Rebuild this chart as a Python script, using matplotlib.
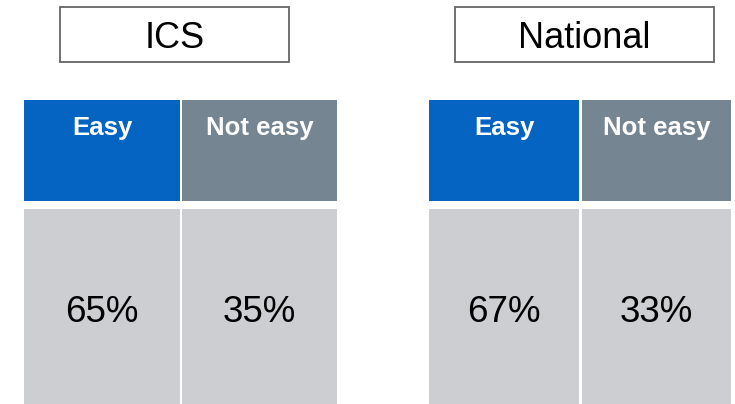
import matplotlib
matplotlib.use("Agg")
import matplotlib.pyplot as plt
from matplotlib.patches import Rectangle

plt.rcParams['font.family'] = ['Liberation Sans', 'DejaVu Sans']

groups = ["ICS", "National"]
categories = ["Easy", "Not easy"]
values = [[65, 35], [67, 33]]
header_colors = ["#0563C1", "#768592"]
cell_color = "#CDCED2"

W, H = 735, 404
fig = plt.figure(figsize=(W / 100, H / 100), dpi=100)
ax = fig.add_axes([0, 0, 1, 1])
ax.set_xlim(0, W)
ax.set_ylim(H, 0)
ax.axis("off")

# layout (pixels)
title_boxes = [(60, 289), (455, 714)]
title_y0, title_y1 = 7, 62
col_x = [[(24, 180), (182, 337)], [(429, 579), (582, 731)]]
head_y0, head_y1 = 100, 201
cell_y0, cell_y1 = 209, 404

for g, grp in enumerate(groups):
    x0, x1 = title_boxes[g]
    ax.add_patch(Rectangle((x0, title_y0), x1 - x0, title_y1 - title_y0,
                           facecolor="white", edgecolor="#666666", lw=1.3))
    ax.text((x0 + x1) / 2, 48, grp, fontsize=26,
            ha="center", va="baseline", color="black")
    for c, cat in enumerate(categories):
        cx0, cx1 = col_x[g][c]
        ax.add_patch(Rectangle((cx0, head_y0), cx1 - cx0, head_y1 - head_y0,
                               facecolor=header_colors[c], edgecolor="none"))
        ax.text((cx0 + cx1) / 2, 135, cat, fontsize=18.5, fontweight="bold",
                ha="center", va="baseline", color="white")
        ax.add_patch(Rectangle((cx0, cell_y0), cx1 - cx0, cell_y1 - cell_y0,
                               facecolor=cell_color, edgecolor="none"))
        ax.text((cx0 + cx1) / 2, 322.5, f"{values[g][c]}%", fontsize=26.5,
                ha="center", va="baseline", color="black")

fig.savefig("out.png", dpi=100, facecolor="white")
